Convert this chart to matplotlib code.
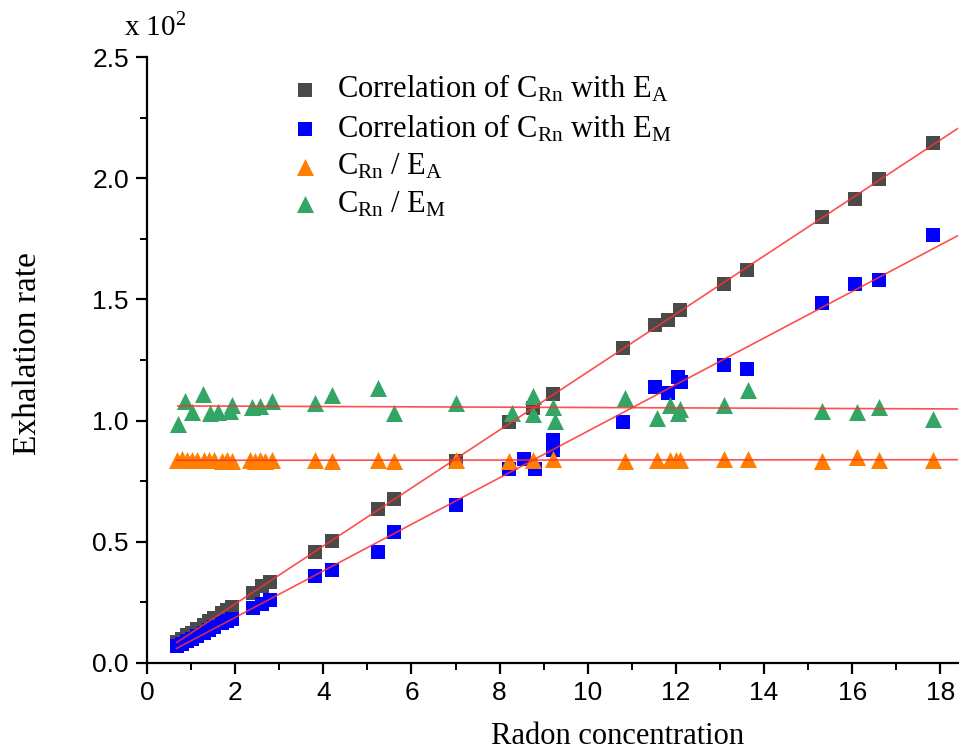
import numpy as np
import matplotlib
matplotlib.use("Agg")
import matplotlib.pyplot as plt
from matplotlib.ticker import MultipleLocator

plt.rcParams['font.family'] = ['Liberation Sans', 'DejaVu Sans']
plt.rcParams['mathtext.fontset'] = 'custom'
plt.rcParams['mathtext.rm'] = 'Liberation Serif'
plt.rcParams['mathtext.it'] = 'Liberation Serif:italic'

# radon concentration vs exhalation rate (x 10^2)
x_ea = [0.67, 0.79, 0.90, 1.01, 1.13, 1.29, 1.40, 1.51, 1.70, 1.81, 1.92, 2.40, 2.60, 2.80,
        3.80, 4.20, 5.25, 5.60, 7.00, 8.22, 8.75, 9.22, 10.81, 11.53, 11.83, 12.10,
        13.08, 13.62, 15.32, 16.07, 16.60, 17.84]
y_ea = [0.085, 0.100, 0.115, 0.125, 0.140, 0.158, 0.172, 0.185, 0.205, 0.220, 0.230, 0.290, 0.318, 0.335,
        0.458, 0.505, 0.635, 0.675, 0.835, 0.995, 1.050, 1.110, 1.300, 1.395, 1.415, 1.456,
        1.564, 1.622, 1.840, 1.914, 1.997, 2.145]

x_em = [0.67, 0.79, 0.90, 1.01, 1.13, 1.29, 1.40, 1.51, 1.70, 1.81, 1.92, 2.40, 2.60, 2.80,
        3.80, 4.20, 5.25, 5.60, 7.00, 8.22, 8.55, 8.80, 9.20, 9.22, 10.81, 11.53, 11.83,
        12.05, 12.12, 13.08, 13.62, 15.32, 16.07, 16.60, 17.84]
y_em = [0.072, 0.080, 0.090, 0.100, 0.110, 0.125, 0.135, 0.150, 0.165, 0.172, 0.180, 0.226, 0.242, 0.260,
        0.358, 0.382, 0.458, 0.540, 0.650, 0.800, 0.840, 0.800, 0.880, 0.920, 0.994, 1.140, 1.113,
        1.180, 1.160, 1.230, 1.213, 1.485, 1.563, 1.580, 1.766]

x_ra = [0.67, 0.79, 0.90, 1.01, 1.13, 1.29, 1.40, 1.51, 1.70, 1.81, 1.92, 2.34, 2.45, 2.57, 2.68, 2.83,
        3.80, 4.20, 5.25, 5.60, 7.00, 8.22, 8.75, 9.22, 10.85, 11.57, 11.87, 12.00, 12.10,
        13.08, 13.64, 15.32, 16.10, 16.60, 17.84]
y_ra = [0.838, 0.840, 0.838, 0.837, 0.838, 0.836, 0.837, 0.836, 0.835, 0.836, 0.835, 0.836, 0.835, 0.836, 0.835, 0.836,
        0.836, 0.835, 0.836, 0.835, 0.836, 0.834, 0.838, 0.840, 0.835, 0.836, 0.838, 0.837, 0.836,
        0.840, 0.842, 0.835, 0.848, 0.836, 0.836]

x_rm = [0.70, 0.86, 1.02, 1.27, 1.43, 1.60, 1.88, 1.93, 2.38, 2.56, 2.83,
        3.80, 4.20, 5.25, 5.60, 7.00, 8.29, 8.76, 8.76, 9.22, 9.26, 10.85, 11.57, 11.87,
        12.05, 12.10, 13.08, 13.64, 15.32, 16.10, 16.60, 17.84]
y_rm = [0.985, 1.080, 1.035, 1.110, 1.030, 1.035, 1.040, 1.065, 1.055, 1.060, 1.080,
        1.072, 1.105, 1.135, 1.030, 1.072, 1.030, 1.100, 1.028, 1.058, 1.000, 1.092, 1.012, 1.065,
        1.032, 1.048, 1.064, 1.125, 1.040, 1.036, 1.055, 1.008]

series = [
    (x_ea, y_ea, 's', '#4a4a4a', 'Correlation of C$_{\\mathrm{Rn}}$ with E$_{\\mathrm{A}}$', 95),
    (x_em, y_em, 's', '#0000ff', 'Correlation of C$_{\\mathrm{Rn}}$ with E$_{\\mathrm{M}}$', 95),
    (x_ra, y_ra, '^', '#ff7f00', 'C$_{\\mathrm{Rn}}$ / E$_{\\mathrm{A}}$', 150),
    (x_rm, y_rm, '^', '#33a564', 'C$_{\\mathrm{Rn}}$ / E$_{\\mathrm{M}}$', 150),
]

fig = plt.figure(figsize=(9.59, 7.51), dpi=100)
ax = fig.add_axes([0.1533, 0.1172, 0.8457, 0.8069])

x_max = 18.4
for xs, ys, mk, col, lab, size in series:
    ax.scatter(xs, ys, marker=mk, s=size, color=col, linewidths=0, label=lab, zorder=2)

# linear fits
for xs, ys, mk, col, lab, size in series:
    k, b = np.polyfit(xs, ys, 1)
    xx = np.array([min(xs), x_max])
    ax.plot(xx, k * xx + b, color='#ff3030', lw=1.2, alpha=0.85, zorder=3)

ax.set_xlim(0, x_max)
ax.set_ylim(0, 2.5)
ax.xaxis.set_major_locator(MultipleLocator(2))
ax.xaxis.set_minor_locator(MultipleLocator(1))
ax.yaxis.set_major_locator(MultipleLocator(0.5))
ax.yaxis.set_minor_locator(MultipleLocator(0.25))
ax.yaxis.set_major_formatter(plt.FormatStrFormatter('%.1f'))

for side in ['top', 'right']:
    ax.spines[side].set_visible(False)
for side in ['left', 'bottom']:
    ax.spines[side].set_linewidth(1.6)
ax.tick_params(which='major', direction='out', length=8, width=1.6, labelsize=19, pad=5)
ax.tick_params(which='minor', direction='out', length=5, width=1.4)

ax.set_xlabel('Radon concentration', family='Liberation Serif', fontsize=22)
ax.xaxis.set_label_coords(0.58, -0.098)
ax.set_ylabel('Exhalation rate', family='Liberation Serif', fontsize=24)
ax.yaxis.set_label_coords(-0.128, 0.51)

ax.text(-0.028, 1.025, 'x 10$^{2}$', transform=ax.transAxes, family='Liberation Serif',
        fontsize=21, ha='left', va='bottom')

ax.legend(loc='upper left', bbox_to_anchor=(0.155, 0.998), frameon=False,
          prop={'family': 'Liberation Serif', 'size': 22}, handletextpad=0.5,
          labelspacing=0.26, borderpad=0, handlelength=1.1, scatterpoints=1)

fig.savefig('out.png', dpi=100)
